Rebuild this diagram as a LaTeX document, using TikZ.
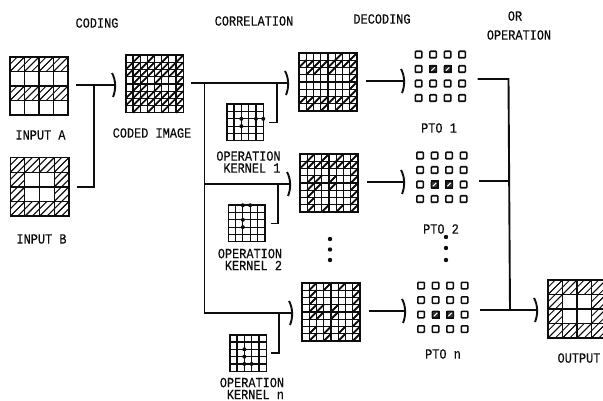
\documentclass[tikz,border=0pt]{standalone}
\usepackage{fontspec}
\newfontfamily\lablfont[FakeStretch=0.85,FakeBold=0.4]{Liberation Mono}
\definecolor{ink}{gray}{0.05}
\tikzset{
  x=1pt,y=-1pt,
  conn/.style={draw=ink,line width=1.9pt},
  gridbox/.style={draw=ink,line width=1.5pt,inner sep=0pt,outer sep=0pt,minimum size=#1},
  gridline/.style={draw=ink,line width=1.15pt},
  lab/.style={inner sep=0pt,text=ink,font=\lablfont\fontsize{14}{12}\selectfont},
  ptocell/.style={draw=ink,line width=1.6pt,rounded corners=0.8pt,fill=white},
  hatchcell/.style={draw=ink,line width=1.6pt,fill=ink!85},
  kdot/.style={fill=ink,circle,inner sep=0pt,minimum size=4pt},
  bigdot/.style={fill=ink,circle,inner sep=0pt,minimum size=4.4pt},
  sizer/.style={inner sep=0pt,outer sep=0pt,minimum size=50pt}
}
% name, centre x, centre y, size, cells, list row/{cols}, hatch offsets, hatch width
\newcommand{\patgrid}[8]{%
  \node[gridbox=#4 pt] (#1) at (#2,#3) {};
  \pgfmathsetmacro\cw{#4/#5}
  \foreach \r/\cols in {#6}{\foreach \c in \cols{\foreach \d in {#7}{%
    \pgfmathsetmacro\xa{\c*\cw}
    \pgfmathsetmacro\ya{(\r+1)*\cw}
    \pgfmathsetmacro\off{\d*\cw}
    \pgfmathsetmacro\len{\cw-\off}
    \draw[draw=ink,line width=#8pt] ([shift={(\xa+\off,\ya)}]#1.north west) -- +(\len,-\len);
    \draw[draw=ink,line width=#8pt] ([shift={(\xa,\ya-\off)}]#1.north west) -- +(\len,-\len);}}}
  \pgfmathtruncatemacro\nm{#5-1}
  \foreach \i in {1,...,\nm}{%
    \draw[gridline] ([shift={(\i*\cw,0)}]#1.north west) -- ([shift={(\i*\cw,0)}]#1.south west);
    \draw[gridline] ([shift={(0,\i*\cw)}]#1.north west) -- ([shift={(0,\i*\cw)}]#1.north east);}
}
% name, centre x, centre y, list of col/row dot intersections
\newcommand{\kernelgrid}[4]{%
  \node[gridbox=36.5pt] (#1) at (#2,#3) {};
  \foreach \i in {1,2,3,4}{%
    \draw[gridline] ([shift={(\i*7.3,0)}]#1.north west) -- ([shift={(\i*7.3,0)}]#1.south west);
    \draw[gridline] ([shift={(0,\i*7.3)}]#1.north west) -- ([shift={(0,\i*7.3)}]#1.north east);}
  \foreach \c/\r in {#4}{\node[kdot] at ([shift={(\c*7.3,\r*7.3)}]#1.north west) {};}
}
% name, centre x, centre y, hatched row
\newcommand{\ptogrid}[4]{%
  \node[sizer] (#1) at (#2,#3) {};
  \foreach \r in {0,1,2,3}{\foreach \c in {0,1,2,3}{%
    \path[ptocell] ([shift={(-25.2+\c*14.5,-25.2+\r*14.5)}]#1.center) rectangle +(6.5,6.5);}}
  \foreach \c in {1,2}{%
    \path[hatchcell] ([shift={(-25.2+\c*14.5,-25.2+#4*14.5)}]#1.center) rectangle +(6.5,6.5);
    \draw[white,line width=1.1pt] ([shift={(-23.6+\c*14.5,-20.2+#4*14.5)}]#1.center) -- +(3.4,-3.4);}
}
\newcommand{\barhead}[1]{%
  \draw[conn] ([shift={(-3,-12)}]#1) .. controls ([shift={(1,-5)}]#1) and ([shift={(1,5)}]#1) .. ([shift={(-2,12)}]#1);
}
\begin{document}
\begin{tikzpicture}
\useasboundingbox[fill=white] (0,0) rectangle (603,401);
% inputs
\patgrid{inA}{39}{86}{58}{4}{0/{0,...,3},2/{0,...,3}}{0,0.5}{1.0}
\patgrid{inB}{39.5}{187}{58.5}{4}{0/{0,...,3},1/{0,3},2/{0,3},3/{0,...,3}}{0,0.5}{1.0}
% coded image
\patgrid{coded}{154.5}{84}{57.5}{8}{0/{1,3,5,7},1/{0,...,7},2/{0,...,7},3/{1,2,4,7},4/{1,2,4,7},5/{0,...,7},6/{0,...,7},7/{1,3,5,7}}{0}{1.5}
% decoded images
\patgrid{decA}{328}{82}{58}{8}{0/{5,7},1/{0,...,7},2/{1,2,4,7},3/{7},4/{7},5/{7},6/{0,...,7},7/{1,3,5,7}}{0}{1.7}
\patgrid{decB}{329}{183}{58}{8}{0/{1,3,5,7},1/{0,...,7},2/{7},3/{1,2,4,7},4/{1,2,4,7},5/{1,7},6/{1,7},7/{1,3,5,7}}{0}{1.7}
\patgrid{decN}{331}{312}{58}{8}{0/{1,3,5,7},1/{1,7},2/{1,7},3/{1,2,4,7},4/{1,2,4,7},5/{7},6/{1,3,5,7},7/{1,3,5,7}}{0}{1.7}
% kernels
\kernelgrid{kerA}{245}{122.5}{2/2,4/2,5/2,2/3}
\kernelgrid{kerB}{246.5}{223.5}{2/0,3/0,2/2,2/3}
\kernelgrid{kerN}{248}{353}{2/2,2/3,2/4,3/4}
% pto
\ptogrid{ptoA}{440.5}{76.5}{1}
\ptogrid{ptoB}{442}{177.5}{2}
\ptogrid{ptoN}{443}{307.5}{2}
% output
\patgrid{outp}{577}{309}{58}{4}{0/{0,...,3},1/{0,3},2/{0,3},3/{0,...,3}}{0,0.5}{1.0}
% dots
\node[bigdot] (da) at (330,239) {};
\node[bigdot] (db) at (330,249.5) {};
\node[bigdot] (dc) at (330,260) {};
\node[bigdot] (dd) at (446,237) {};
\node[bigdot] (de) at (446,248) {};
\node[bigdot] (df) at (446,260) {};
% connector points
\coordinate (hC) at (115,85);
\coordinate (jB) at (94,85);
\coordinate (jS) at (204.5,83);
\coordinate (jT) at (204.5,184);
\coordinate (jU) at (204.5,313);
\coordinate (hA) at (288,83);
\coordinate (hB) at (290,184);
\coordinate (hN) at (292,313);
\coordinate (tA) at (277,83);
\coordinate (tB) at (278,184);
\coordinate (tN) at (279,313);
\coordinate (pA) at (404,81);
\coordinate (pB) at (404,182);
\coordinate (pN) at (405,311);
\coordinate (oA) at (508.5,79);
\coordinate (oB) at (509,181);
\coordinate (oN) at (510,310);
\coordinate (hO) at (537,310);
% connectors
\draw[conn,shorten <=8pt] (inA.east |- hC) -- (hC);
\draw[conn,shorten <=8pt] (inB.east) -| (jB);
\barhead{hC}
\draw[conn,shorten <=8pt] (coded.east |- hA) -- (hA);
\draw[conn] (jS) -- (jU) -- (hN);
\draw[conn] (jT) -- (hB);
\barhead{hA}\barhead{hB}\barhead{hN}
\draw[conn,shorten <=6pt] (kerA.east) -| (tA);
\draw[conn,shorten <=6pt] (kerB.east) -| (tB);
\draw[conn,shorten <=5pt] (kerN.east) -| (tN);
\draw[conn,shorten <=9pt] (decA.east |- pA) -- (pA);
\draw[conn,shorten <=9pt] (decB.east |- pB) -- (pB);
\draw[conn,shorten <=9pt] (decN.east |- pN) -- (pN);
\barhead{pA}\barhead{pB}\barhead{pN}
\draw[conn,shorten <=12pt] (ptoA.east |- oA) -- (oA) -- (oN);
\draw[conn,shorten <=12pt] (ptoB.east |- oB) -- (oB);
\draw[conn,shorten <=12pt] (ptoN.east |- hO) -- (hO);
\barhead{hO}
% labels
\node[lab] (t1) at (97,23) {CODING};
\node[lab] (t2) at (254,21) {CORRELATION};
\node[lab] (t3) at (382,19) {DECODING};
\node[lab] (t4) at (515,16) {OR};
\node[lab] (t5) at (519,35) {OPERATION};
\node[lab] (t6) at (40.5,135) {INPUT A};
\node[lab] (t7) at (41.5,239) {INPUT B};
\node[lab] (t8) at (152,133) {CODED IMAGE};
\node[lab,align=left] (t9) at (248.5,162) {OPERATION\\\hspace*{7pt}KERNEL 1};
\node[lab,align=left] (t11) at (250,259.5) {OPERATION\\\hspace*{7pt}KERNEL 2};
\node[lab,align=left] (t13) at (252,388.5) {OPERATION\\\hspace*{7pt}KERNEL n};
\node[lab] (t15) at (439,128) {PTO 1};
\node[lab] (t16) at (441,229) {PTO 2};
\node[lab] (t17) at (443,354) {PTO n};
\node[lab] (t18) at (579,358) {OUTPUT};
\end{tikzpicture}
\end{document}
